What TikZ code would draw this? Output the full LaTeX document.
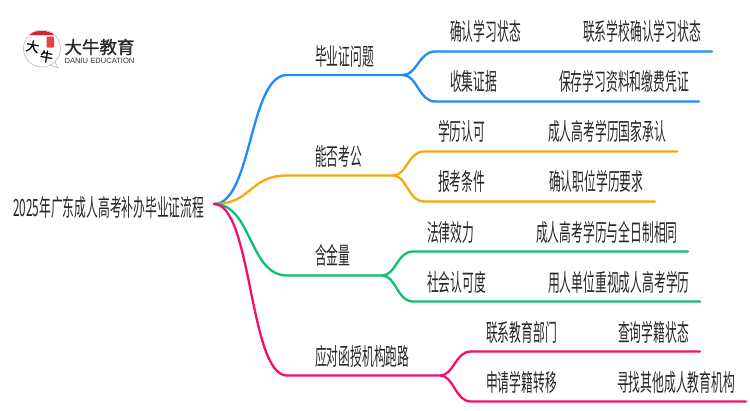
\documentclass[tikz,border=0pt]{standalone}
\usepackage{fontspec}
\setmainfont{Liberation Sans}
\newfontfamily\cjk[FakeStretch=0.495]{Noto Sans CJK SC}
\newfontfamily\cjkbold[BoldFont=*,FakeBold=1.2]{Noto Sans CJK SC}
\definecolor{mapblue}{HTML}{1A8CFF}
\definecolor{maporange}{HTML}{F5A90F}
\definecolor{mapgreen}{HTML}{0DBF6F}
\definecolor{mappink}{HTML}{F50F6B}
\definecolor{maptext}{HTML}{262626}
\definecolor{sealred}{HTML}{E02020}
\tikzset{
  label/.style={anchor=west, inner sep=0pt, text=maptext, font=\cjk\fontsize{23.8}{23.8}\selectfont},
  branch/.style={line width=2.3pt, line cap=round},
}

\begin{document}
\begin{tikzpicture}[x=1pt, y=-1pt]
\useasboundingbox (0, 0) rectangle (750, 410);

% logo
\draw[gray!60, line width=0.5pt, fill=white] (55, 62) -- (58, 68) -- (50, 65);
\draw[gray!60, line width=0.5pt] (42, 48.5) circle (18.5);
\fill[sealred] (29.5, 35) .. controls (34, 29.5) and (49, 29.5) .. (54, 35) -- cycle;
\fill[sealred!85!white, rounded corners=1pt] (46.5, 36.5) rectangle (54, 47.5);
\node (logobig) at (32.5, 46.5) [inner sep=0pt, rotate=-10, text=black] {\cjkbold\fontsize{13}{13}\selectfont 大};
\node (logoox) at (46.5, 56.5) [inner sep=0pt, rotate=-10, text=black] {\cjkbold\fontsize{13}{13}\selectfont 牛};
\node (logoname) at (99.5, 47) [inner sep=0pt, text=black!85] {\cjkbold\fontsize{17.5}{17.5}\selectfont 大牛教育};
\node (logoeng) at (99.5, 60.5) [inner sep=0pt, text=black!80] {\fontsize{7.6}{7.6}\selectfont DANIU EDUCATION};

% root
\node (root) at (13, 207) [label] {2025年广东成人高考补办毕业证流程};
\coordinate (tip) at (214, 204);

% branch titles
\node (diploma) at (315, 57) [label] {毕业证问题};
\node (exam) at (315, 156.5) [label] {能否考公};
\node (value) at (315, 255.5) [label] {含金量};
\node (fraud) at (315, 356.5) [label] {应对函授机构跑路};

% leaves
\node (status) at (450, 31.5) [label] {确认学习状态};
\node (statusnote) at (583, 31.5) [label] {联系学校确认学习状态};
\node (proof) at (450, 81) [label] {收集证据};
\node (proofnote) at (559, 81) [label] {保存学习资料和缴费凭证};
\node (degree) at (438, 131) [label] {学历认可};
\node (degreenote) at (548, 131) [label] {成人高考学历国家承认};
\node (terms) at (438, 181) [label] {报考条件};
\node (termsnote) at (549, 181) [label] {确认职位学历要求};
\node (law) at (427, 232) [label] {法律效力};
\node (lawnote) at (536, 232) [label] {成人高考学历与全日制相同};
\node (social) at (427, 282) [label] {社会认可度};
\node (socialnote) at (548, 282) [label] {用人单位重视成人高考学历};
\node (office) at (486, 332) [label] {联系教育部门};
\node (officenote) at (618, 332) [label] {查询学籍状态};
\node (transfer) at (486, 382) [label] {申请学籍转移};
\node (transfernote) at (617, 382) [label] {寻找其他成人教育机构};

% forks and line ends
\coordinate (diplomafork) at (403, 75);
\coordinate (examfork) at (393, 175.5);
\coordinate (valuefork) at (382, 275.5);
\coordinate (fraudfork) at (440, 375.5);

\draw[branch, mapblue] (tip) .. controls +(38, 0) and +(-38, 0) .. (287, 75) -- (diplomafork);
\draw[branch, mapblue] (diplomafork) .. controls +(14, 0) and +(-16, 0) .. (435, 51.5) -- (712, 51.5);
\draw[branch, mapblue] (diplomafork) .. controls +(14, 0) and +(-16, 0) .. (435, 101.5) -- (699, 101.5);

\draw[branch, maporange] (tip) .. controls +(38, 0) and +(-38, 0) .. (287, 175.5) -- (examfork);
\draw[branch, maporange] (examfork) .. controls +(14, 0) and +(-16, 0) .. (424, 151.5) -- (677, 151.5);
\draw[branch, maporange] (examfork) .. controls +(14, 0) and +(-16, 0) .. (424, 201.5) -- (655, 201.5);

\draw[branch, mapgreen] (tip) .. controls +(38, 0) and +(-38, 0) .. (287, 275.5) -- (valuefork);
\draw[branch, mapgreen] (valuefork) .. controls +(14, 0) and +(-16, 0) .. (413, 251.5) -- (688, 251.5);
\draw[branch, mapgreen] (valuefork) .. controls +(14, 0) and +(-16, 0) .. (413, 301.5) -- (700, 301.5);

\draw[branch, mappink] (tip) .. controls +(38, 0) and +(-38, 0) .. (287, 375.5) -- (fraudfork);
\draw[branch, mappink] (fraudfork) .. controls +(14, 0) and +(-16, 0) .. (471, 351.5) -- (700, 351.5);
\draw[branch, mappink] (fraudfork) .. controls +(14, 0) and +(-16, 0) .. (471, 401.5) -- (746, 401.5);

\end{tikzpicture}
\end{document}
